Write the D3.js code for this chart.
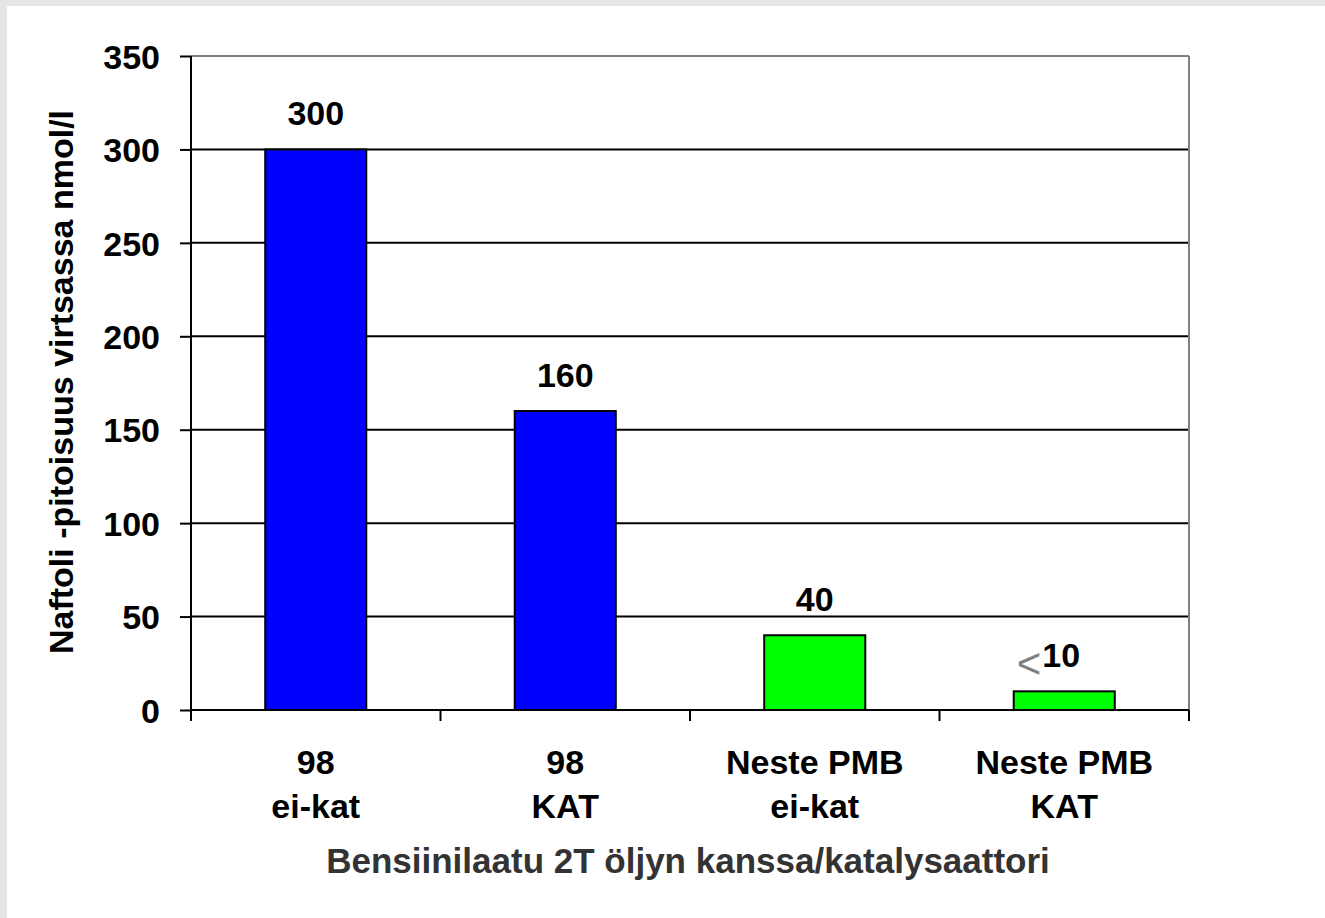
<!DOCTYPE html>
<html><head><meta charset="utf-8">
<script src="https://cdn.jsdelivr.net/npm/d3@7"></script>
<style>
html,body{margin:0;padding:0;background:#e6e6e6;}
svg{display:block;}
text{font-family:"Liberation Sans",Arial,sans-serif;}
</style></head>
<body>
<script>
const categories = [["98","ei-kat"],["98","KAT"],["Neste PMB","ei-kat"],["Neste PMB","KAT"]];
const values = [300, 160, 40, 10];
const valueLabels = ["300","160","40","10"];
const labelPrefix = ["","","","<"];
const colors = ["#0000ff","#0000ff","#00ff00","#00ff00"];
const yTicks = [0,50,100,150,200,250,300,350];
const yTitle = "Naftoli -pitoisuus virtsassa nmol/l";
const xTitle = "Bensiinilaatu 2T öljyn kanssa/katalysaattori";

const W = 1325, H = 918;
const FS = 34;
const svg = d3.select("body").append("svg").attr("width", W).attr("height", H);
svg.append("rect").attr("x",7).attr("y",6).attr("width",W-7).attr("height",H-6).attr("fill","#fff");

const L = 191, R = 1189, T = 56, B = 710;
const x = d3.scaleBand().domain(d3.range(categories.length)).range([L,R]).paddingInner(0.595).paddingOuter(0.2975);
const y = d3.scaleLinear().domain([0,350]).range([B,T]);

// gridlines
svg.append("g").selectAll("line").data(yTicks.filter(t=>t>0 && t<350)).join("line")
  .attr("x1",L).attr("x2",R).attr("y1",d=>y(d)).attr("y2",d=>y(d))
  .attr("stroke","#000").attr("stroke-width",2);
// top and right border (gray)
svg.append("line").attr("x1",L).attr("x2",R).attr("y1",y(350)).attr("y2",y(350)).attr("stroke","#808080").attr("stroke-width",2);
svg.append("line").attr("x1",R).attr("x2",R).attr("y1",T).attr("y2",B).attr("stroke","#808080").attr("stroke-width",2);

// bars
svg.append("g").selectAll("rect").data(values).join("rect")
  .attr("x",(d,i)=>x(i)).attr("width",x.bandwidth())
  .attr("y",d=>y(d)).attr("height",d=>B-y(d))
  .attr("fill",(d,i)=>colors[i]).attr("stroke","#000").attr("stroke-width",2);

// y axis
const yAxis = d3.axisLeft(y).tickValues(yTicks).tickSize(11).tickPadding(20);
const gy = svg.append("g").attr("transform",`translate(${L},0)`).call(yAxis);
gy.select(".domain").attr("stroke","#000").attr("stroke-width",2).attr("d",`M0,${T}V${B}`);
gy.selectAll(".tick line").attr("stroke","#000").attr("stroke-width",2);
gy.selectAll(".tick text").attr("font-size",FS).attr("font-weight","bold").attr("fill","#000")
  .attr("font-family","Liberation Sans, Arial, sans-serif").attr("dy","0.36em");

// x axis line and ticks at boundaries
svg.append("line").attr("x1",L).attr("x2",R).attr("y1",B).attr("y2",B).attr("stroke","#000").attr("stroke-width",2);
svg.append("g").selectAll("line").data(d3.range(categories.length+1)).join("line")
  .attr("x1",i=>L+i*(R-L)/categories.length).attr("x2",i=>L+i*(R-L)/categories.length)
  .attr("y1",B).attr("y2",B+11).attr("stroke","#000").attr("stroke-width",2);

// category labels
const cl = svg.append("g").selectAll("text").data(categories).join("text")
  .attr("text-anchor","middle").attr("font-size",FS).attr("font-weight","bold").attr("fill","#000");
cl.each(function(d,i){
  const t = d3.select(this);
  const cx = x(i)+x.bandwidth()/2;
  t.append("tspan").attr("x",cx).attr("y",774).text(d[0]);
  t.append("tspan").attr("x",cx).attr("y",818).text(d[1]);
});

// value labels
svg.append("g").selectAll("text").data(values).join("text")
  .attr("text-anchor","middle").attr("font-size",FS).attr("font-weight","bold").attr("fill","#000")
  .attr("x",(d,i)=>x(i)+x.bandwidth()/2 + (labelPrefix[i]? -3:0))
  .attr("y",d=>y(d)-24)
  .text((d,i)=>valueLabels[i]);
// prefix "<"
svg.append("g").selectAll("text").data(values.map((v,i)=>({v,i})).filter(o=>labelPrefix[o.i])).join("text")
  .attr("text-anchor","end").attr("font-size",42).attr("font-weight","normal").attr("fill","#808080")
  .attr("x",o=>x(o.i)+x.bandwidth()/2 - 23)
  .attr("y",o=>y(o.v)-13)
  .text(o=>labelPrefix[o.i]);

// axis titles
svg.append("text").attr("transform",`translate(73,382) rotate(-90)`).attr("text-anchor","middle")
  .attr("font-size",FS).attr("font-weight","bold").attr("fill","#000").text(yTitle);
svg.append("text").attr("x",688).attr("y",873).attr("text-anchor","middle")
  .attr("font-size",35).attr("font-weight","bold").attr("fill","#333").text(xTitle);
</script>
</body></html>
